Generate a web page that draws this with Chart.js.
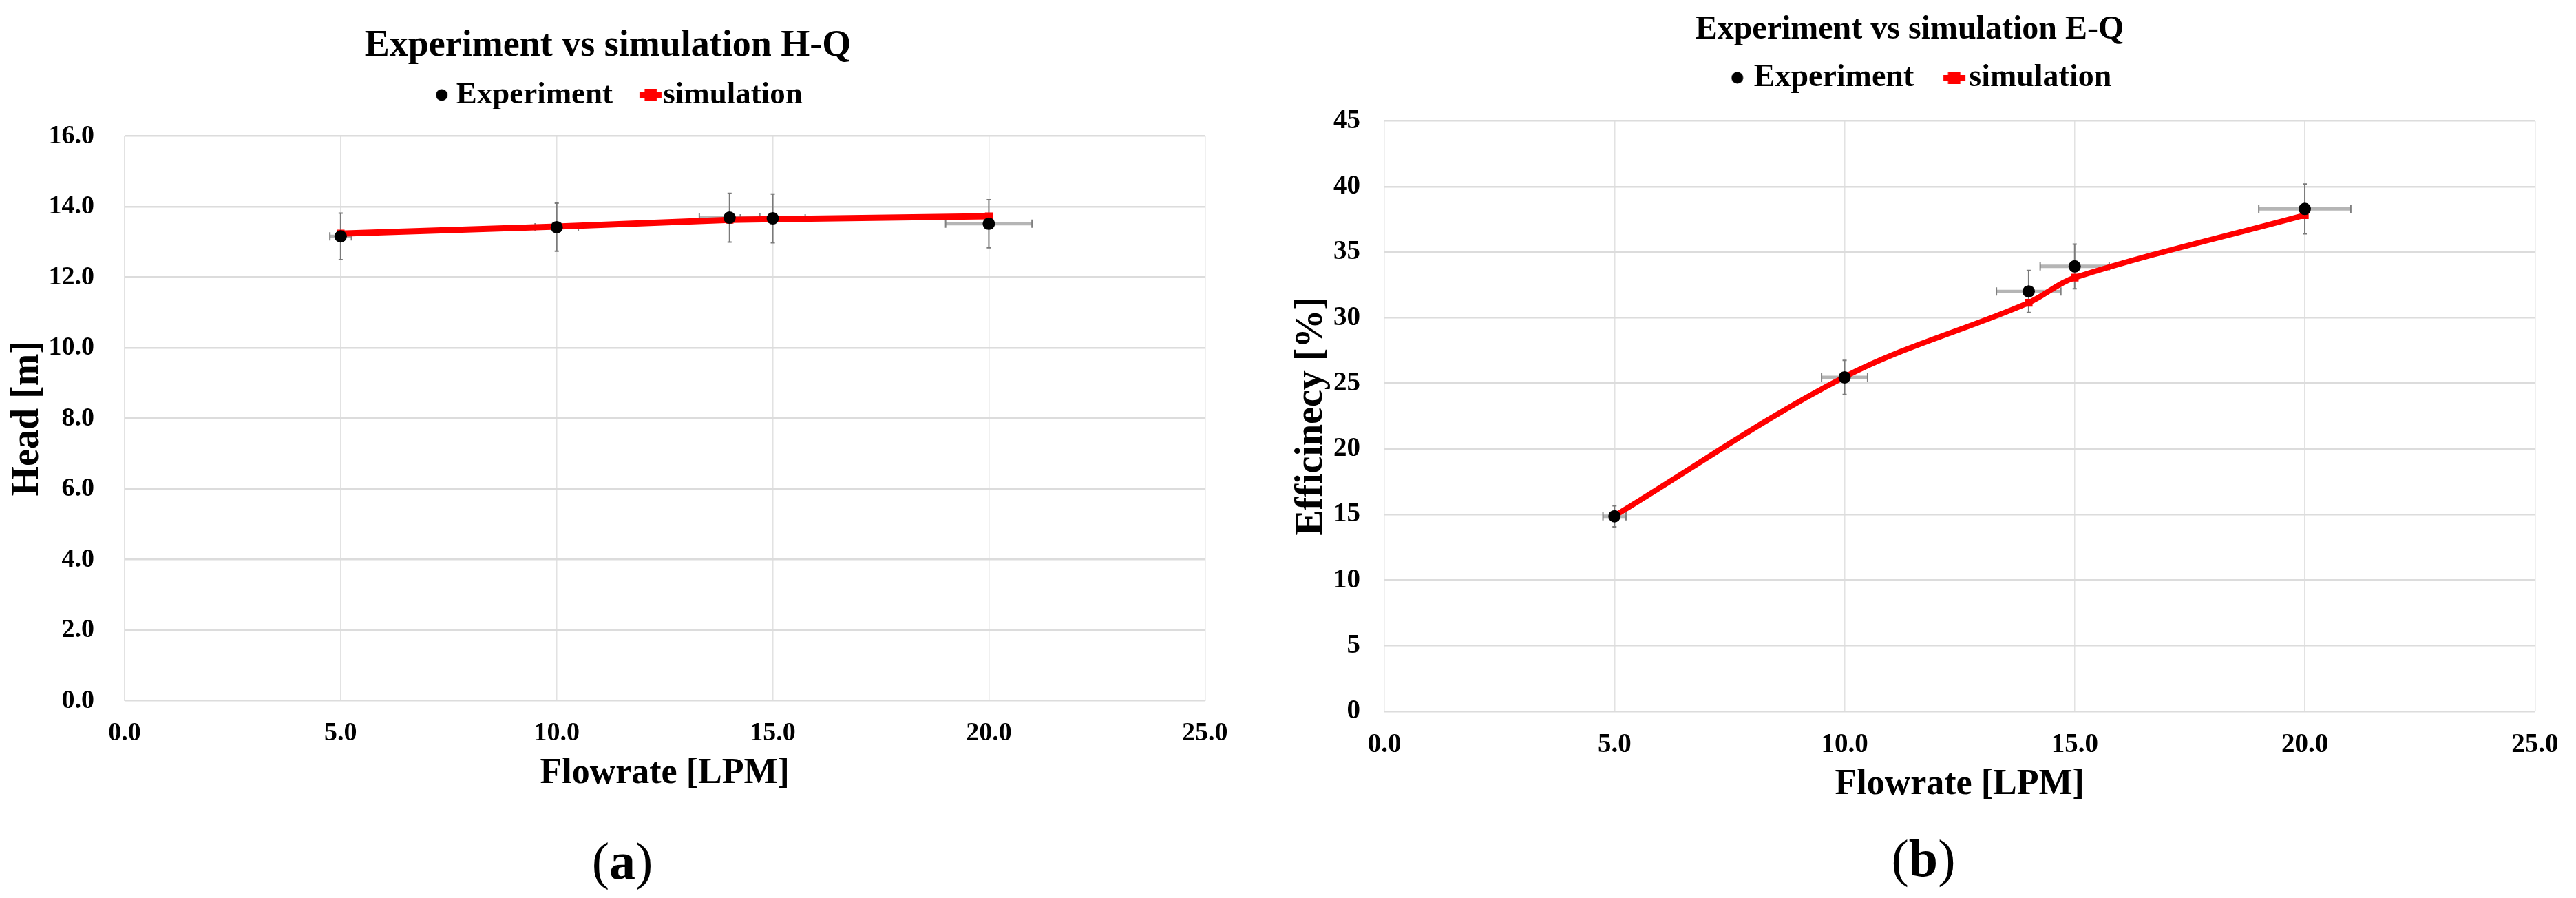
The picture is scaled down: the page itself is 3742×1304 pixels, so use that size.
<!DOCTYPE html>
<html>
<head>
<meta charset="utf-8">
<script src="https://cdn.jsdelivr.net/npm/chart.js@4.4.1/dist/chart.umd.min.js"></script>
<style>
html, body { margin: 0; padding: 0; background: #fff; }
#wrap { position: relative; width: 3742px; height: 1304px; overflow: hidden; background: #fff; }
canvas { position: absolute; top: 0; }
#c1 { left: 0; }
#c2 { left: 1856px; }
.lab { position: absolute; font-family: "Liberation Serif", "Times New Roman", serif; font-size: 76px; color: #000; transform: translate(-50%, -50%); line-height: 1; white-space: nowrap; }
</style>
</head>
<body>
<div id="wrap">
  <canvas id="c1" width="1808" height="1180"></canvas>
  <canvas id="c2" width="1886" height="1180"></canvas>
  <div class="lab" style="left:904px; top:1250px;">(<b>a</b>)</div>
  <div class="lab" style="left:2794px; top:1246px;">(<b>b</b>)</div>
</div>
<script>
// ---------------- data ----------------
const flowRate = [5, 10, 14, 15, 20];
const flowErr = [0.25, 0.5, 0.7, 0.75, 1.0];

const headExperiment = [13.16, 13.42, 13.69, 13.67, 13.52];
const headExperimentErr = [0.66, 0.68, 0.69, 0.69, 0.68];
const headSimulation = [13.24, 13.44, 13.63, 13.65, 13.73];

const effExperiment = [14.87, 25.46, 32.01, 33.92, 38.30];
const effExperimentErr = [0.8, 1.3, 1.6, 1.7, 1.9];
const effSimulation = [14.9, 25.5, 31.15, 33.06, 37.83];

const flowTicks = [0, 5, 10, 15, 20, 25];
const headTicks = [0, 2, 4, 6, 8, 10, 12, 14, 16];
const effTicks = [0, 5, 10, 15, 20, 25, 30, 35, 40, 45];

const seriesNames = ['Experiment', 'simulation'];
// --------------------------------------

Chart.defaults.font.family = "'Liberation Serif', 'Times New Roman', serif";
Chart.defaults.color = '#000';

function makeIcon(kind, w, h, cx) {
  const c = document.createElement('canvas');
  c.width = w; c.height = h;
  const g = c.getContext('2d');
  if (kind === 'dot') {
    g.fillStyle = '#000';
    g.beginPath(); g.arc(cx, h / 2, 8.5, 0, Math.PI * 2); g.fill();
  } else {
    g.strokeStyle = '#ff0000'; g.lineWidth = 8;
    g.beginPath(); g.moveTo(cx - 16, h / 2); g.lineTo(cx + 16, h / 2); g.stroke();
    g.fillStyle = '#ff0000'; g.fillRect(cx - 9, h / 2 - 9, 18, 18);
  }
  return c;
}

const errorBarPlugin = {
  id: 'errorBars',
  beforeDatasetsDraw(chart) {
    const ctx = chart.ctx;
    const xs = chart.scales.x, ys = chart.scales.y;
    const pts = chart.data.datasets[0].data;
    ctx.save();
    pts.forEach(p => {
      const px = xs.getPixelForValue(p.x), py = ys.getPixelForValue(p.y);
      const xl = xs.getPixelForValue(p.x - p.ex), xr = xs.getPixelForValue(p.x + p.ex);
      // horizontal error bar
      ctx.strokeStyle = '#b5b5b5'; ctx.lineWidth = 5;
      ctx.beginPath(); ctx.moveTo(xl, py); ctx.lineTo(xr, py); ctx.stroke();
      ctx.strokeStyle = '#808080'; ctx.lineWidth = 2;
      ctx.beginPath();
      ctx.moveTo(xl, py - 6); ctx.lineTo(xl, py + 6);
      ctx.moveTo(xr, py - 6); ctx.lineTo(xr, py + 6);
      ctx.stroke();
      // vertical error bar
      const yt = ys.getPixelForValue(p.y + p.ey), yb = ys.getPixelForValue(p.y - p.ey);
      ctx.strokeStyle = '#7a7a7a'; ctx.lineWidth = 2;
      ctx.beginPath();
      ctx.moveTo(px, yt); ctx.lineTo(px, yb);
      ctx.moveTo(px - 3, yt); ctx.lineTo(px + 3, yt);
      ctx.moveTo(px - 3, yb); ctx.lineTo(px + 3, yb);
      ctx.stroke();
    });
    ctx.restore();
  }
};

function buildChart(id, cfg) {
  const expPts = flowRate.map((x, i) => ({ x: x, y: cfg.exp[i], ex: flowErr[i], ey: cfg.expErr[i] }));
  const simPts = flowRate.map((x, i) => ({ x: x, y: cfg.sim[i] }));
  const icons = [makeIcon('dot', 80, 40, cfg.dotCx), makeIcon('sim', 90, 40, cfg.simCx)];
  return new Chart(document.getElementById(id), {
    type: 'line',
    data: {
      datasets: [
        { label: seriesNames[0], data: expPts, xAxisID: 'x', yAxisID: 'y', showLine: false,
          pointRadius: 9, pointHoverRadius: 9, pointBackgroundColor: '#000', pointBorderColor: '#000',
          pointBorderWidth: 0, borderColor: '#000', backgroundColor: '#000' },
        { label: seriesNames[1], data: simPts, xAxisID: 'x', yAxisID: 'y',
          borderColor: '#ff0000', backgroundColor: '#ff0000', borderWidth: cfg.lineW, tension: cfg.tension,
          pointStyle: 'rect', pointRadius: 8, pointHoverRadius: 8, pointBackgroundColor: '#ff0000',
          pointBorderColor: '#ff0000', pointBorderWidth: 0, fill: false }
      ]
    },
    options: {
      responsive: false, animation: false, devicePixelRatio: 1,
      layout: { padding: { left: 0, right: cfg.padRight, top: 0, bottom: 0 } },
      plugins: {
        tooltip: { enabled: false },
        title: { display: true, text: cfg.title, color: '#000',
          font: { size: cfg.titleSize, weight: 'bold' }, padding: { top: cfg.titleTop, bottom: cfg.titleBottom } },
        legend: {
          display: true, position: 'top',
          labels: {
            usePointStyle: true, boxWidth: cfg.legendBox, boxHeight: 12, padding: cfg.legendPad, color: '#000',
            font: { size: cfg.legendSize, weight: 'bold' },
            generateLabels: (chart) => chart.data.datasets.map((d, i) => ({
              text: d.label, pointStyle: icons[i], fillStyle: 'rgba(0,0,0,0)', strokeStyle: 'rgba(0,0,0,0)',
              lineWidth: 0, hidden: false, datasetIndex: i, fontColor: '#000'
            }))
          }
        }
      },
      scales: {
        x: {
          type: 'linear', position: 'bottom', min: 0, max: 25,
          afterBuildTicks: (a) => { a.ticks = flowTicks.map(v => ({ value: v })); },
          ticks: { callback: (v) => Number(v).toFixed(1), color: '#000', padding: cfg.xTickPad,
            maxRotation: 0, autoSkip: false, font: { size: cfg.tickSize, weight: 'bold' } },
          grid: { color: '#e2e2e2', lineWidth: 1.5, drawTicks: false },
          border: { display: false },
          title: { display: true, text: 'Flowrate [LPM]', color: '#000',
            font: { size: 52, weight: 'bold' }, padding: { top: 0, bottom: cfg.xTitleBottom } },
          afterFit: (s) => { s.height = cfg.xAxisH; }
        },
        y: {
          type: 'linear', position: 'left', min: 0, max: cfg.yMax,
          afterBuildTicks: (a) => { a.ticks = cfg.yTicks.map(v => ({ value: v })); },
          ticks: { callback: (v) => Number(v).toFixed(cfg.yDec), color: '#000', padding: cfg.yTickPad,
            font: { size: cfg.tickSize, weight: 'bold' } },
          grid: { color: '#dcdcdc', lineWidth: 2.5, drawTicks: false },
          border: { display: false },
          title: { display: true, text: cfg.yTitle, color: '#000',
            font: { size: 56, weight: 'bold' }, padding: { top: cfg.yTitleTop, bottom: 0 } },
          afterFit: (s) => { s.width = cfg.yAxisW; }
        },
        gap: {
          axis: 'x', type: 'linear', position: 'top', display: true,
          ticks: { display: false }, grid: { display: false, drawTicks: false }, border: { display: false },
          afterFit: (s) => { s.height = cfg.gapH; }
        }
      }
    },
    plugins: [errorBarPlugin]
  });
}

buildChart('c1', {
  title: 'Experiment vs simulation H-Q', yTitle: 'Head [m]',
  exp: headExperiment, expErr: headExperimentErr, sim: headSimulation,
  yTicks: headTicks, yMax: 16, yDec: 1, lineW: 9, tension: 0,
  titleSize: 54, titleTop: 35, titleBottom: 5,
  legendSize: 45, legendPad: 10.7, legendBox: 40, dotCx: 61.5, simCx: 69.5,
  gapH: 27.2, padRight: 42, yAxisW: 181, yTickPad: 44, yTitleTop: 7.4,
  xAxisH: 162.3, xTickPad: 24.5, xTitleBottom: 24.8, tickSize: 38
});

buildChart('c2', {
  title: 'Experiment vs simulation E-Q', yTitle: 'Efficinecy [%]',
  exp: effExperiment, expErr: effExperimentErr, sim: effSimulation,
  yTicks: effTicks, yMax: 45, yDec: 0, lineW: 8, tension: 0.35,
  titleSize: 48, titleTop: 15, titleBottom: 4.4,
  legendSize: 46, legendPad: 13, legendBox: 44, dotCx: 61, simCx: 68.5,
  gapH: 29.7, padRight: 50, yAxisW: 155, yTickPad: 35, yTitleTop: 16.4,
  xAxisH: 147, xTickPad: 25.6, xTitleBottom: 8.8, tickSize: 39
});
</script>
</body>
</html>
